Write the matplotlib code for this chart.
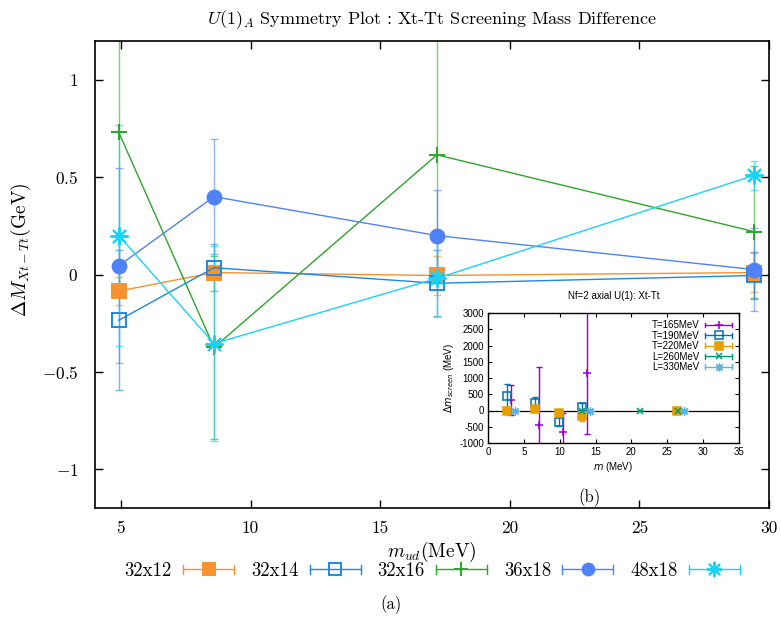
import matplotlib
matplotlib.use("Agg")
import matplotlib.pyplot as plt
from matplotlib.lines import Line2D
from matplotlib.legend_handler import HandlerBase
from matplotlib.ticker import FixedLocator, FuncFormatter

plt.rcParams['font.family'] = ['cmr10', 'DejaVu Serif']
plt.rcParams['mathtext.fontset'] = 'cm'
plt.rcParams['axes.formatter.use_mathtext'] = True
plt.rcParams['axes.unicode_minus'] = True

# ---------------- main data ----------------
m_ud = [4.92, 8.59, 17.19, 29.44]
labels = ["32x12", "32x14", "32x16", "36x18", "48x18"]
y_32x12 = [-0.085, 0.01, -0.005, 0.01]
e_32x12 = [0.072, 0.03, 0.10, 0.10]
y_32x14 = [-0.235, 0.035, -0.045, -0.005]
e_32x14 = [0.36, 0.12, 0.17, 0.12]
y_32x16 = [0.73, -0.375, 0.615, 0.22]
e_32x16 = [0.83, 0.47, 0.66, 0.34]
y_36x18 = [0.045, 0.40, 0.20, 0.025]
e_36x18 = [0.50, 0.295, 0.235, 0.215]
y_48x18 = [0.20, -0.355, -0.02, 0.51]
e_48x18 = [0.57, 0.50, 0.20, 0.075]
main_xticks = [5, 10, 15, 20, 25, 30]
main_yticks = [-1, -0.5, 0, 0.5, 1]

# ---------------- inset data ----------------
in_labels = ["T=165MeV", "T=190MeV", "T=220MeV", "L=260MeV", "L=330MeV"]
m_165 = [3.15, 7.1, 10.4, 13.75]
d_165 = [320, -455, -650, 1150]
e_165 = [460, 1800, 565, 1870]
m_190 = [2.7, 6.55, 9.95, 13.15]
d_190 = [450, 220, -345, 115]
e_190 = [380, 200, 145, 130]
m_220 = [2.7, 6.55, 9.95, 13.15, 26.3]
d_220 = [0, 40, -85, -170, -30]
e_220 = [30, 30, 40, 140, 30]
m_260 = [13.15, 21.2, 26.5]
d_260 = [0, 0, 0]
e_260 = [10, 10, 10]
m_330 = [3.75, 14.2, 27.3]
d_330 = [0, 0, 0]
e_330 = [10, 10, 10]
in_xticks = [0, 5, 10, 15, 20, 25, 30, 35]
in_yticks = [-1000, -500, 0, 500, 1000, 1500, 2000, 2500, 3000]

colors = ["#f7922e", "#1e88e0", "#2ca52c", "#4f82f7", "#1ad2f7"]
markers = ["s", "s", "+", "o", (8, 2, 0)]
mfcs = [colors[0], "none", colors[2], colors[3], colors[4]]
msizes = [10, 10, 12, 10, 13]

fig = plt.figure(figsize=(7.81, 6.22), dpi=100)
ax = fig.add_axes([95/781, 1-508/622, 674/781, 467/622])

ys = [y_32x12, y_32x14, y_32x16, y_36x18, y_48x18]
es = [e_32x12, e_32x14, e_32x16, e_36x18, e_48x18]
for i in range(5):
    ax.errorbar(m_ud, ys[i], yerr=es[i], fmt='none', ecolor=colors[i],
                elinewidth=1.0, capsize=3, capthick=1.0, alpha=0.6, zorder=2)
    ax.plot(m_ud, ys[i], color=colors[i], lw=1.0, marker=markers[i],
            mfc=mfcs[i], mec=colors[i], ms=msizes[i], mew=1.4, zorder=3)

ax.set_xlim(4, 30)
ax.set_ylim(-1.2, 1.2)
ax.xaxis.set_major_locator(FixedLocator(main_xticks))
ax.yaxis.set_major_locator(FixedLocator(main_yticks))
ax.yaxis.set_major_formatter(FuncFormatter(lambda v, p: r"$%g$" % v))
ax.xaxis.set_major_formatter(FuncFormatter(lambda v, p: "%g" % v))
ax.tick_params(direction='in', top=True, right=True, length=6, width=1,
               labelsize=12.5)
ax.tick_params(axis='y', pad=12)
ax.tick_params(axis='x', pad=9)
for s in ax.spines.values():
    s.set_linewidth(1.2)
ax.set_title(r"$U(1)_A$ Symmetry Plot : Xt-Tt Screening Mass Difference",
             fontsize=13, pad=12)
ax.set_ylabel(r"$\Delta M_{Xt-Tt}$(GeV)", fontsize=14)
ax.yaxis.set_label_coords(-62/674, (508-250)/467)
fig.text(432/781, 1-552/622, r"$m_{ud}$(MeV)", fontsize=14, ha='center', va='center')
fig.text(391/781, 1-605/622, "(a)", fontsize=12, ha='center', va='center')


class HandlerGP(HandlerBase):
    def create_artists(self, legend, orig_handle, xdescent, ydescent,
                       width, height, fontsize, trans):
        x0 = -xdescent
        x1 = x0 + width
        y = -ydescent + height / 2.0
        cap = height * 0.35
        c = orig_handle.get_color()
        lw = orig_handle.get_linewidth()
        arts = [Line2D([x0, x1], [y, y], color=c, lw=lw, transform=trans),
                Line2D([x0, x0], [y - cap, y + cap], color=c, lw=lw, transform=trans),
                Line2D([x1, x1], [y - cap, y + cap], color=c, lw=lw, transform=trans),
                Line2D([(x0 + x1) / 2], [y], color=c, lw=0,
                       marker=orig_handle.get_marker(),
                       mfc=orig_handle.get_markerfacecolor(),
                       mec=orig_handle.get_markeredgecolor(),
                       ms=orig_handle.get_markersize(),
                       mew=orig_handle.get_markeredgewidth(), transform=trans)]
        return arts


handles = [Line2D([], [], color=colors[i], lw=1.0, marker=markers[i], mfc=mfcs[i],
                  mec=colors[i], ms=msizes[i] * 0.85, mew=1.4) for i in range(5)]
fig.legend(handles, labels, loc='center', bbox_to_anchor=(432/781, 1-571/622), ncol=5,
           frameon=False, markerfirst=False, fontsize=13.5, handlelength=2.72,
           handletextpad=0.6, columnspacing=0.9, borderpad=0, borderaxespad=0,
           handler_map={Line2D: HandlerGP()})

# ---------------- inset ----------------
ax_in = fig.add_axes([488/781, 1-443/622, 251/781, 130/622])
in_colors = ["#9400d3", "#0072b2", "#e69f00", "#009e73", "#56b4e9"]
in_markers = ["+", "s", "s", "x", (8, 2, 0)]
in_mfcs = [in_colors[0], "none", in_colors[2], in_colors[3], in_colors[4]]
in_ms = [6, 6, 6, 5, 6]
in_mew = [1.1, 1.1, 1.1, 1.1, 0.9]
in_m = [m_165, m_190, m_220, m_260, m_330]
in_d = [d_165, d_190, d_220, d_260, d_330]
in_e = [e_165, e_190, e_220, e_260, e_330]
ax_in.axhline(0, color='black', lw=0.9, zorder=1)
for i in range(5):
    ax_in.errorbar(in_m[i], in_d[i], yerr=in_e[i], fmt='none', ecolor=in_colors[i],
                   elinewidth=1.0, capsize=2, capthick=1.0, zorder=2)
    ax_in.plot(in_m[i], in_d[i], lw=0, marker=in_markers[i], mfc=in_mfcs[i],
               mec=in_colors[i], ms=in_ms[i], mew=in_mew[i], zorder=3)
ax_in.set_xlim(0, 35)
ax_in.set_ylim(-1000, 3000)
ax_in.xaxis.set_major_locator(FixedLocator(in_xticks))
ax_in.yaxis.set_major_locator(FixedLocator(in_yticks))
fmt = FuncFormatter(lambda v, p: "%d" % int(round(v)))
ax_in.xaxis.set_major_formatter(fmt)
ax_in.yaxis.set_major_formatter(fmt)
ax_in.tick_params(direction='in', top=True, right=True, length=3, width=0.8,
                  labelsize=7, pad=3, labelfontfamily='Liberation Sans')
for s in ax_in.spines.values():
    s.set_linewidth(1.0)
ax_in.set_title("Nf=2 axial U(1): Xt-Tt", fontsize=7, family='Liberation Sans', pad=10)
ax_in.set_xlabel(r"$m$ (MeV)", fontsize=7, family='Liberation Sans',
                 math_fontfamily='dejavusans', labelpad=2)
ax_in.set_ylabel(r"$\Delta m_{screen}$ (MeV)", fontsize=7, family='Liberation Sans',
                 math_fontfamily='dejavusans', labelpad=2)
in_handles = [Line2D([], [], color=in_colors[i], lw=1.0, marker=in_markers[i],
                     mfc=in_mfcs[i], mec=in_colors[i], ms=in_ms[i], mew=in_mew[i])
              for i in range(5)]
leg = ax_in.legend(in_handles, in_labels, loc='upper right', frameon=False,
                   markerfirst=False, prop={'family': 'Liberation Sans', 'size': 7},
                   handlelength=2.7, handletextpad=0.6, labelspacing=0.05,
                   borderaxespad=0.35, handler_map={Line2D: HandlerGP()})
fig.text(590/781, 1-498/622, "(b)", fontsize=12, ha='center', va='center')

fig.savefig("out.png", dpi=100)
